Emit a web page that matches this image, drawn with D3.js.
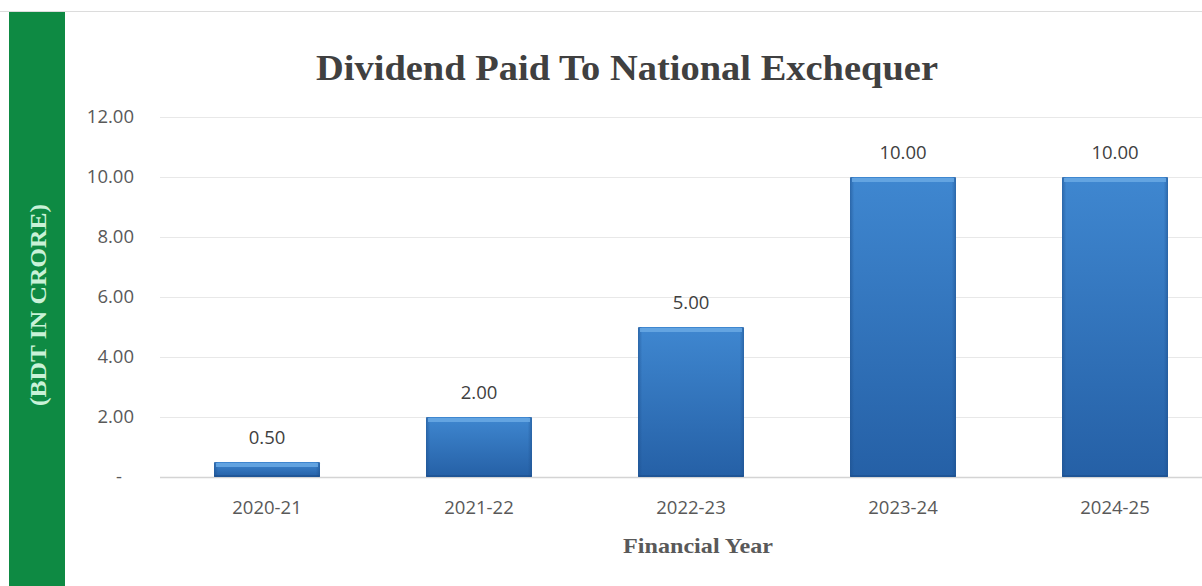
<!DOCTYPE html>
<html><head><meta charset="utf-8">
<script src="https://cdn.jsdelivr.net/npm/d3@7"></script>
<style>body{margin:0;background:#fff;overflow:hidden}</style>
</head><body>
<svg id="c" width="1202" height="586"></svg>
<script>
const categories = ["2020-21","2021-22","2022-23","2023-24","2024-25"];
const values = [0.5, 2, 5, 10, 10];
const yTicks = [0,2,4,6,8,10,12];
const titleText = "Dividend Paid To National Exchequer";
const xTitle = "Financial Year";
const yTitle = "(BDT IN CRORE)";

const svg = d3.select("#c");
const defs = svg.append("defs");
const g1 = defs.append("linearGradient").attr("id","bar").attr("x1",0).attr("y1",0).attr("x2",0).attr("y2",1);
g1.append("stop").attr("offset","0%").attr("stop-color","#3f87d0");
g1.append("stop").attr("offset","100%").attr("stop-color","#2560a6");
const g2 = defs.append("linearGradient").attr("id","side").attr("x1",0).attr("y1",0).attr("x2",1).attr("y2",0);
g2.append("stop").attr("offset","0%").attr("stop-color","#1d4f8c").attr("stop-opacity",0.55);
g2.append("stop").attr("offset","4%").attr("stop-color","#1d4f8c").attr("stop-opacity",0);
g2.append("stop").attr("offset","96%").attr("stop-color","#1d4f8c").attr("stop-opacity",0);
g2.append("stop").attr("offset","100%").attr("stop-color","#1d4f8c").attr("stop-opacity",0.55);

const sans = "'Open Sans','Noto Sans',sans-serif";
const serif = "'Liberation Serif','DejaVu Serif',serif";

// frame top line
svg.append("line").attr("x1",0).attr("x2",1202).attr("y1",11.5).attr("y2",11.5).attr("stroke","#dcdcdc");
// green band
svg.append("rect").attr("x",9).attr("y",12).attr("width",56).attr("height",574).attr("fill","#0e8a43");
svg.append("text").attr("transform","translate(46,305) rotate(-90)")
  .attr("text-anchor","middle").attr("fill","#c9f2d8")
  .attr("textLength",202).attr("lengthAdjust","spacingAndGlyphs")
  .style("font-family",serif).style("font-weight","bold").style("font-size","23px")
  .text(yTitle);

const x = d3.scaleBand().domain(categories).range([161,1221]).paddingInner(0.5).paddingOuter(0.25);
const y = d3.scaleLinear().domain([0,12]).range([477,117]);

// grid
svg.append("g").selectAll("line").data(yTicks).join("line")
  .attr("x1",160).attr("x2",1202).attr("y1",d=>y(d)+0.5).attr("y2",d=>y(d)+0.5)
  .attr("stroke",d=>d===0?"#d4d4d4":"#e8e8e8").attr("stroke-width",d=>d===0?1.5:1.2);

// y axis labels
const yAxis = d3.axisLeft(y).tickValues(yTicks).tickSize(0).tickPadding(0)
  .tickFormat(d=>d===0?"-":d3.format(".2f")(d));
const ya = svg.append("g").attr("transform","translate(134,0)").call(yAxis);
ya.select(".domain").remove();
ya.selectAll("text").attr("fill","#595959").style("font-family",sans).style("font-size","18.5px");
ya.selectAll(".tick").filter(d=>d===0).select("text").attr("dx","-12");

// bars
const bars = svg.append("g").selectAll("g").data(categories).join("g");
bars.append("rect").attr("x",d=>x(d)).attr("width",x.bandwidth())
  .attr("y",(d,i)=>y(values[i])).attr("height",(d,i)=>y(0)-y(values[i]))
  .attr("fill","url(#bar)").attr("rx",1.5);
bars.append("rect").attr("x",d=>x(d)).attr("width",x.bandwidth())
  .attr("y",(d,i)=>y(values[i])).attr("height",(d,i)=>y(0)-y(values[i]))
  .attr("fill","url(#side)");
bars.append("rect").attr("x",d=>x(d)+2).attr("width",x.bandwidth()-4)
  .attr("y",(d,i)=>y(values[i])+1).attr("height",(d,i)=>Math.min(4,(y(0)-y(values[i]))/2))
  .attr("fill","#6aa9e4").attr("opacity",0.85);
bars.append("rect").attr("x",d=>x(d)).attr("width",x.bandwidth())
  .attr("y",y(0)-2).attr("height",2).attr("fill","#1d4f8c").attr("opacity",0.6);

// value labels
svg.append("g").selectAll("text").data(categories).join("text")
  .attr("x",d=>x(d)+x.bandwidth()/2).attr("y",(d,i)=>y(values[i])-18)
  .attr("text-anchor","middle").attr("fill","#404040")
  .style("font-family",sans).style("font-size","18.5px")
  .text((d,i)=>d3.format(".2f")(values[i]));

// x axis labels
const xAxis = d3.axisBottom(x).tickSize(0).tickPadding(24);
const xa = svg.append("g").attr("transform",`translate(0,${y(0)})`).call(xAxis);
xa.select(".domain").remove();
xa.selectAll("text").attr("fill","#595959").style("font-family",sans).style("font-size","18.5px");

// titles
svg.append("text").attr("x",627).attr("y",80).attr("text-anchor","middle").attr("fill","#404040")
  .attr("textLength",622).attr("lengthAdjust","spacingAndGlyphs")
  .style("font-family",serif).style("font-weight","bold").style("font-size","35px")
  .text(titleText);
svg.append("text").attr("x",698).attr("y",553).attr("text-anchor","middle").attr("fill","#595959")
  .attr("textLength",150).attr("lengthAdjust","spacingAndGlyphs")
  .style("font-family",serif).style("font-weight","bold").style("font-size","21px")
  .text(xTitle);
</script>
</body></html>
